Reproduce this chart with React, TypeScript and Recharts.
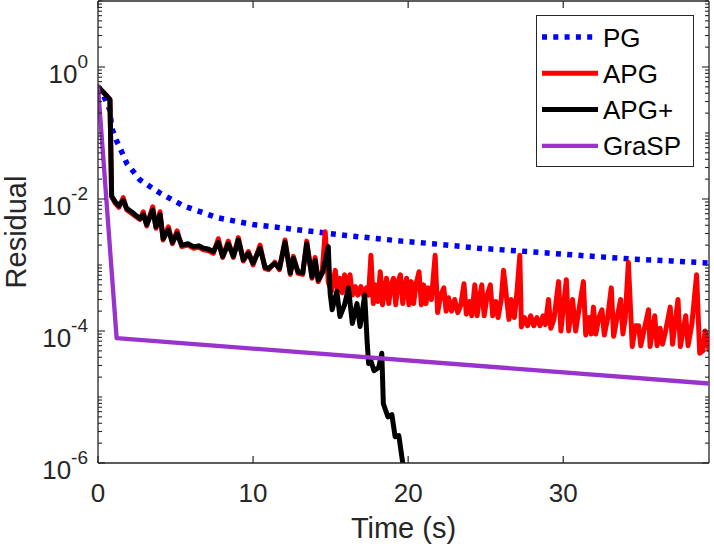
import { LineChart, Line, XAxis, YAxis, Legend, ReferenceLine } from "recharts";

document.body.style.margin = "0";

const FONT = "'Liberation Sans', Arial, Helvetica, sans-serif";
const INK = "#262626";

// plot box (from chart margins + axis sizes)
const PLOT_LEFT = 98;
const PLOT_RIGHT = 709;
const PLOT_TOP = 1;
const PLOT_BOTTOM = 463;
const X_MAX = 39.4;

const X_TICKS = [0, 10, 20, 30];
const Y_DECADES = [1e-6, 1e-5, 1e-4, 1e-3, 1e-2, 1e-1, 1];
const Y_MINOR = [1, 2, 3, 4, 5, 6, 7, 8, 9];
const Y_LABEL_EXP = [-6, -4, -2, 0];
const Y_TICKS = [...Y_DECADES.flatMap((d) => Y_MINOR.map((m) => m * d)), 10];

// PG
const PG_T = [0, 0.3, 0.77, 0.88, 1.2, 1.53, 1.85, 2.7, 4.0, 5.5, 7.7, 10.0, 13.0, 16.0, 19.6, 21.6, 24.5, 27.7, 31.0, 34.5, 37.0, 39.4];
const PG_R = [5.0e-1, 4.0e-1, 2.2e-1, 1.2e-1, 7.6e-2, 5.2e-2, 3.5e-2, 1.95e-2, 1.23e-2, 7.9e-3, 5.2e-3, 4.1e-3, 3.4e-3, 2.8e-3, 2.3e-3, 2.1e-3, 1.8e-3, 1.6e-3, 1.4e-3, 1.23e-3, 1.15e-3, 1.07e-3];

// APG
const APG_T = [
  0, 0.5, 0.77, 0.88, 1.1, 1.35, 1.63, 1.85, 2.2, 2.5, 2.71, 2.92, 3.14, 3.53, 3.74, 4.0, 4.2, 4.54, 4.8, 5.1,
  5.4, 5.8, 6.15, 6.5, 6.8, 7.1, 7.44, 7.76, 8.04, 8.4, 8.73, 9.05, 9.37, 9.7, 10.0, 10.45, 10.77, 11.0, 11.4, 11.7,
  12.06, 12.4, 12.6, 12.9, 13.2, 13.46, 13.8, 14.0, 14.2, 14.45, 14.65, 14.85, 15.05, 15.3, 15.45, 15.6, 15.75, 15.9, 16.05, 16.25,
  16.4, 16.6, 16.75, 16.95, 17.1, 17.3, 17.45, 17.6, 17.75, 17.9, 18.05, 18.2, 18.35, 18.6, 18.75, 18.9, 19.05, 19.2, 19.35, 19.5,
  19.65, 19.8, 19.9, 20.05, 20.2, 20.35, 20.5, 20.7, 20.85, 21.0, 21.15, 21.3, 21.5, 21.74, 21.9, 22.1, 22.3, 22.45, 22.6, 22.8,
  23.0, 23.2, 23.4, 23.6, 23.75, 23.95, 24.1, 24.3, 24.45, 24.6, 24.75, 24.9, 25.1, 25.3, 25.45, 25.65, 25.8, 26.0, 26.15, 26.5,
  26.65, 26.85, 27.0, 27.2, 27.3, 27.5, 27.7, 27.9, 28.1, 28.3, 28.5, 28.7, 28.85, 29.05, 29.2, 29.4, 29.7, 29.85, 30.0, 30.2,
  30.35, 30.6, 30.8, 31.0, 31.3, 31.45, 31.65, 31.8, 31.95, 32.1, 32.3, 32.5, 32.65, 32.85, 33.1, 33.25, 33.45, 33.7, 33.85, 34.0,
  34.2, 34.45, 34.65, 34.86, 35.0, 35.2, 35.5, 35.6, 35.9, 36.05, 36.25, 36.4, 36.6, 36.9, 37.05, 37.4, 37.55, 37.9, 38.05, 38.3,
  38.6, 38.8, 39.0, 39.15, 39.4,
];
const APG_R = [
  5.0e-1, 3.8e-1, 3.2e-1, 1.1e-2, 8.7e-3, 7.5e-3, 1.05e-2, 6.9e-3, 6.0e-3, 5.3e-3, 4.9e-3, 6.4e-3, 3.9e-3, 7.6e-3, 3.6e-3, 6.4e-3, 2.4e-3, 3.8e-3, 2.1e-3, 3.3e-3,
  1.9e-3, 2.0e-3, 1.8e-3, 1.85e-3, 1.7e-3, 1.65e-3, 1.5e-3, 2.5e-3, 1.3e-3, 2.3e-3, 1.3e-3, 2.6e-3, 1.15e-3, 1.6e-3, 1.0e-3, 2.0e-3, 8.8e-4, 8.5e-4, 1.1e-3, 8.5e-4,
  2.4e-3, 7.2e-4, 1.35e-3, 7.5e-4, 7.2e-4, 2.3e-3, 6.3e-4, 1.3e-3, 5.6e-4, 7.5e-4, 3.2e-3, 5.5e-4, 4.0e-4, 8.3e-4, 4.0e-4, 6.3e-4, 3.8e-4, 7.1e-4, 4.0e-4, 7.1e-4,
  3.5e-4, 4.7e-4, 3.5e-4, 4.7e-4, 3.5e-4, 4.5e-4, 3.5e-4, 1.4e-3, 2.6e-4, 5.0e-4, 2.8e-4, 7.9e-4, 2.5e-4, 6.3e-4, 2.6e-4, 5.0e-4, 6.3e-4, 2.5e-4, 5.6e-4, 7.1e-4,
  2.6e-4, 5.0e-4, 6.3e-4, 2.5e-4, 5.6e-4, 2.6e-4, 5.0e-4, 7.9e-4, 2.5e-4, 5.0e-4, 2.6e-4, 4.5e-4, 3.0e-4, 1.4e-3, 1.9e-4, 3.5e-4, 4.5e-4, 2.0e-4, 3.2e-4, 2.0e-4,
  3.0e-4, 1.9e-4, 2.5e-4, 5.2e-4, 1.8e-4, 2.8e-4, 1.7e-4, 5.0e-4, 1.7e-4, 3.2e-4, 5.0e-4, 1.7e-4, 3.5e-4, 5.0e-4, 1.7e-4, 2.8e-4, 1.6e-4, 3.0e-4, 8.3e-4, 1.5e-4,
  3.0e-4, 1.6e-4, 3.5e-4, 1.4e-3, 1.15e-4, 1.6e-4, 1.2e-4, 1.7e-4, 1.2e-4, 1.6e-4, 1.2e-4, 1.7e-4, 1.25e-4, 3.0e-4, 1.1e-4, 1.5e-4, 5.6e-4, 1.0e-4, 2.2e-4, 6.0e-4,
  1.0e-4, 3.0e-4, 1.0e-4, 2.0e-4, 5.6e-4, 8.7e-5, 1.6e-4, 9.0e-5, 2.3e-4, 9.0e-5, 1.6e-4, 2.1e-4, 8.7e-5, 1.5e-4, 4.5e-4, 8.3e-5, 1.5e-4, 3.0e-4, 9.0e-5, 1.6e-4,
  1.1e-3, 5.8e-5, 1.2e-4, 1.2e-4, 6.0e-5, 1.0e-4, 2.1e-4, 5.8e-5, 1.7e-4, 6.0e-5, 1.1e-4, 6.3e-5, 1.0e-4, 2.3e-4, 6.3e-5, 3.0e-4, 5.8e-5, 1.7e-4, 6.0e-5, 1.3e-4,
  7.1e-4, 4.6e-5, 5.0e-5, 1.0e-4, 5.2e-5,
];

// APG+
const APGP_T = [
  0, 0.5, 0.77, 0.88, 1.1, 1.35, 1.63, 1.85, 2.2, 2.5, 2.71, 2.92, 3.14, 3.53, 3.74, 4.0, 4.2, 4.54, 4.8, 5.1,
  5.4, 5.8, 6.15, 6.5, 6.8, 7.1, 7.44, 7.76, 8.04, 8.4, 8.73, 9.05, 9.37, 9.7, 10.0, 10.45, 10.77, 11.0, 11.4, 11.7,
  12.06, 12.4, 12.6, 12.9, 13.2, 13.46, 13.8, 14.0, 14.2, 14.5, 14.85, 14.97, 15.1, 15.4, 15.6, 15.9, 16.15, 16.4, 16.7, 16.9,
  17.2, 17.35, 17.45, 17.6, 17.8, 18.1, 18.3, 18.4, 18.7, 18.95, 19.16, 19.4, 19.65,
];
const APGP_R = [
  5.0e-1, 3.8e-1, 3.2e-1, 1.1e-2, 9.1e-3, 7.9e-3, 9.5e-3, 7.2e-3, 6.3e-3, 5.5e-3, 5.1e-3, 5.8e-3, 4.1e-3, 6.8e-3, 3.8e-3, 5.8e-3, 2.5e-3, 3.4e-3, 2.2e-3, 3.0e-3,
  2.0e-3, 2.1e-3, 1.9e-3, 1.95e-3, 1.8e-3, 1.75e-3, 1.6e-3, 2.2e-3, 1.35e-3, 2.1e-3, 1.35e-3, 2.4e-3, 1.2e-3, 1.5e-3, 1.07e-3, 1.8e-3, 9.3e-4, 8.9e-4, 1.05e-3, 8.9e-4,
  2.2e-3, 7.6e-4, 1.26e-3, 7.9e-4, 7.6e-4, 2.1e-3, 6.6e-4, 1.17e-3, 5.9e-4, 7.9e-4, 1.9e-3, 3.7e-4, 2.1e-4, 4.0e-4, 1.66e-4, 2.5e-4, 4.5e-4, 1.3e-4, 2.6e-4, 1.17e-4,
  3.5e-4, 7.2e-5, 3.2e-5, 3.5e-5, 2.5e-5, 2.8e-5, 4.6e-5, 7.9e-6, 5.0e-6, 5.4e-6, 2.5e-6, 2.6e-6, 1.0e-6,
];

// GraSP
const GRASP_T = [0, 1.2, 39.4];
const GRASP_R = [5.1e-1, 7.8e-5, 1.6e-5];

const zip = (t: number[], r: number[]) => t.map((v, i) => ({ t: v, r: r[i] }));

const SERIES = [
  { name: "PG", color: "#0000ff", width: 5.5, dash: "5 6.3", data: zip(PG_T, PG_R) },
  { name: "APG", color: "#ff0000", width: 5, dash: undefined, data: zip(APG_T, APG_R) },
  { name: "APG+", color: "#000000", width: 5, dash: undefined, data: zip(APGP_T, APGP_R) },
  { name: "GraSP", color: "#9933cc", width: 4.3, dash: undefined, data: zip(GRASP_T, GRASP_R) },
];

function XTick({ x, y, payload }: any) {
  return (
    <g>
      <line x1={x} x2={x} y1={y} y2={y - 7} stroke={INK} strokeWidth={1.2} />
      <line x1={x} x2={x} y1={PLOT_TOP} y2={PLOT_TOP + 7} stroke={INK} strokeWidth={1.2} />
      <text x={x} y={y + 39} textAnchor="middle" fontSize={26} fontFamily={FONT} fill={INK}>
        {payload.value}
      </text>
    </g>
  );
}

function YTick({ x, y, payload }: any) {
  const lg = Math.log10(payload.value);
  const e = Math.round(lg);
  const decade = Math.abs(lg - e) < 1e-9;
  const labeled = decade && Y_LABEL_EXP.includes(e);
  const len = labeled ? 7 : 4;
  return (
    <g>
      <line x1={x} x2={x + len} y1={y} y2={y} stroke={INK} strokeWidth={1.1} />
      <line x1={PLOT_RIGHT - len} x2={PLOT_RIGHT} y1={y} y2={y} stroke={INK} strokeWidth={1.1} />
      {labeled && (
        <text x={x - 10} y={y + 16} textAnchor="end" fontSize={26} fontFamily={FONT} fill={INK}>
          <tspan>10</tspan>
          <tspan dy={-15} fontSize={19}>{String(e)}</tspan>
        </text>
      )}
    </g>
  );
}

function LegendBox() {
  return (
    <svg width={158} height={152} style={{ display: "block" }}>
      <rect x={0.5} y={0.5} width={157} height={151} fill="#ffffff" stroke={INK} strokeWidth={1} />
      {SERIES.map((s, i) => {
        const cy = 22 + i * 36.3;
        return (
          <g key={s.name}>
            <line x1={6} x2={62} y1={cy} y2={cy} stroke={s.color} strokeWidth={s.width} strokeDasharray={s.dash} />
            <text x={67} y={cy + 9.5} fontSize={26} fontFamily={FONT} fill="#000">
              {s.name}
            </text>
          </g>
        );
      })}
    </svg>
  );
}

export default function App() {
  return (
    <div style={{ width: 714, height: 550, background: "#fff" }}>
      <LineChart width={714} height={550} margin={{ top: PLOT_TOP, right: 714 - PLOT_RIGHT, left: 0, bottom: 0 }}>
        <XAxis
          type="number"
          dataKey="t"
          domain={[0, X_MAX]}
          allowDataOverflow
          ticks={X_TICKS}
          interval={0}
          height={550 - PLOT_BOTTOM}
          tickSize={0}
          tickMargin={0}
          tickLine={false}
          axisLine={{ stroke: INK, strokeWidth: 1.3 }}
          tick={<XTick />}
          label={{
            content: ({ viewBox }: any) => (
              <text
                x={viewBox.x + viewBox.width / 2}
                y={viewBox.y + 75}
                textAnchor="middle"
                fontSize={29}
                fontFamily={FONT}
                fill={INK}
              >
                Time (s)
              </text>
            ),
          }}
        />
        <YAxis
          type="number"
          scale="log"
          domain={[1e-6, 10]}
          allowDataOverflow
          ticks={Y_TICKS}
          interval={0}
          width={PLOT_LEFT}
          tickSize={0}
          tickMargin={0}
          tickLine={false}
          axisLine={{ stroke: INK, strokeWidth: 1.3 }}
          tick={<YTick />}
          label={{
            content: ({ viewBox }: any) => {
              const cx = viewBox.x + 16;
              const cy = viewBox.y + viewBox.height / 2;
              return (
                <text
                  x={cx}
                  y={cy}
                  transform={`rotate(-90 ${cx} ${cy})`}
                  textAnchor="middle"
                  dominantBaseline="central"
                  fontSize={29}
                  fontFamily={FONT}
                  fill={INK}
                >
                  Residual
                </text>
              );
            },
          }}
        />
        <ReferenceLine x={X_MAX} stroke={INK} strokeWidth={1.3} />
        <ReferenceLine y={10} stroke={INK} strokeWidth={1.3} />
        {SERIES.map((s) => (
          <Line
            key={s.name}
            data={s.data}
            dataKey="r"
            name={s.name}
            type="linear"
            stroke={s.color}
            strokeWidth={s.width}
            strokeDasharray={s.dash}
            strokeLinejoin="round"
            strokeLinecap={s.dash ? "butt" : "round"}
            dot={false}
            activeDot={false}
            isAnimationActive={false}
          />
        ))}
        <Legend
          layout="vertical"
          align="center"
          verticalAlign="middle"
          wrapperStyle={{ left: 536, top: 15, width: 158, height: 152 }}
          content={() => <LegendBox />}
        />
      </LineChart>
    </div>
  );
}
